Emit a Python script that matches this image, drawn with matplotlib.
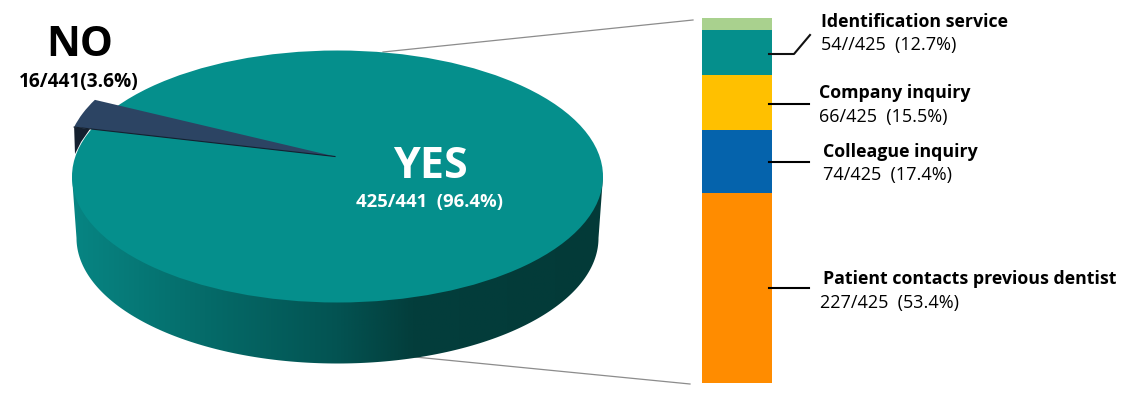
import numpy as np
import matplotlib
matplotlib.use("Agg")
import matplotlib.pyplot as plt
from matplotlib.patches import Ellipse, Wedge, Polygon
from matplotlib.colors import LinearSegmentedColormap
from matplotlib.transforms import Affine2D

plt.rcParams['font.family'] = ['Open Sans', 'DejaVu Sans']

pie_labels = ["YES", "NO"]
pie_counts = [425, 16]
pie_total = 441
pie_texts = ["425/441  (96.4%)", "16/441(3.6%)"]

bar_names = ["Patient contacts previous dentist", "Colleague inquiry", "Company inquiry", "Identification service", ""]
bar_values = [227, 74, 66, 54, 14]
bar_texts = ["227/425  (53.4%)", "74/425  (17.4%)", "66/425  (15.5%)", "54//425  (12.7%)", ""]
bar_colors = ["#FF8C00", "#0563AC", "#FFC000", "#058F8C", "#A9D18E"]

W, H = 1132, 402
fig = plt.figure(figsize=(W/100, H/100), dpi=100)
ax = fig.add_axes([0, 0, 1, 1])
ax.set_xlim(0, W); ax.set_ylim(H, 0); ax.axis("off")

cx, cy, rx, ry = 337.5, 177.5, 265.5, 126
bx, by, brx, bry = 337.5, 239, 261, 125.5
TEAL = "#058F8C"

t = np.linspace(0, np.pi, 200)
arc = np.column_stack([bx + brx*np.cos(t), by + bry*np.sin(t)])
side = np.vstack([[[cx+rx, cy]], arc, [[cx-rx, cy]]])
grad = LinearSegmentedColormap.from_list("g", [(0, "#078583"), (0.25, "#056B69"), (0.5, "#035352"),
                                                (0.64, "#033E3C"), (1, "#033A38")])
im = ax.imshow(np.linspace(0, 1, 256)[None, :], cmap=grad, extent=[cx-rx, cx+rx, by+bry+5, cy-5],
               aspect="auto", zorder=1)
im.set_clip_path(Polygon(side, closed=True, transform=ax.transData))
ax.set_xlim(0, W); ax.set_ylim(H, 0)

ax.add_patch(Ellipse((cx, cy), 2*rx, 2*ry, fc=TEAL, ec="none", zorder=2))

apex = (335, 157.5)
R = 1.01
span = pie_counts[1] / pie_total * 360
mid = 160.1
th1, th2 = mid - span/2, mid + span/2
p_hi = (apex[0] + rx*R*np.cos(np.radians(th2)), apex[1] - ry*R*np.sin(np.radians(th2)))
ax.add_patch(Polygon([p_hi, (75, 155), (81, 143), (90, 130)], closed=True, fc="#14202F", ec="none", zorder=3))
tr = Affine2D().scale(rx, -ry).translate(*apex) + ax.transData
ax.add_patch(Wedge((0, 0), R, th1, th2, fc="#2C4463", ec="none", transform=tr, zorder=4))
ax.plot([apex[0], p_hi[0]], [apex[1], p_hi[1]], color="#14202F", lw=0.8, zorder=5)

ax.plot([383, 693], [53, 21], color="#8C8C8C", lw=0.9, zorder=0)
ax.plot([415, 690], [358, 385], color="#8C8C8C", lw=0.9, zorder=0)

ax.text(430, 167, pie_labels[0], color="white", fontsize=31, fontweight="bold", ha="center", va="center", zorder=6)
ax.text(430, 202, pie_texts[0], color="white", fontsize=13.3, fontweight="bold", ha="center", va="center", zorder=6)
ax.text(80, 46, pie_labels[1], color="black", fontsize=30, fontweight="bold", ha="center", va="center", zorder=6)
ax.text(79, 82, pie_texts[1], color="black", fontsize=13.7, fontweight="bold", ha="center", va="center", zorder=6)

bar_ax = fig.add_axes([702/W, 1-384/H, 70/W, 365/H])
bar_ax.set_xlim(0, 1); bar_ax.set_ylim(0, sum(bar_values)); bar_ax.axis("off")
bottom = 0
for v, c in zip(bar_values, bar_colors):
    bar_ax.bar(0.5, v, width=1, bottom=bottom, color=c)
    bottom += v

ax2 = fig.add_axes([0, 0, 1, 1], facecolor="none")
ax2.set_xlim(0, W); ax2.set_ylim(H, 0); ax2.axis("off")
ax2.plot([769, 794, 810], [55, 55, 36], color="#111111", lw=1.5)
for y in (105, 163, 289):
    ax2.plot([769, 809], [y, y], color="black", lw=1.5)

tx1 = [823, 823, 819, 821]
tx2 = [820, 823, 819, 821]
ty = [(279, 303), (152, 175), (93, 117), (22, 45)]
for n, s, x1, x2, (y1, y2) in zip(bar_names, bar_texts, tx1, tx2, ty):
    ax2.text(x1, y1, n, fontsize=12.8, fontweight="bold", va="center", ha="left", color="black")
    ax2.text(x2, y2, s, fontsize=13, va="center", ha="left", color="black")

fig.savefig("out.png", dpi=100)
